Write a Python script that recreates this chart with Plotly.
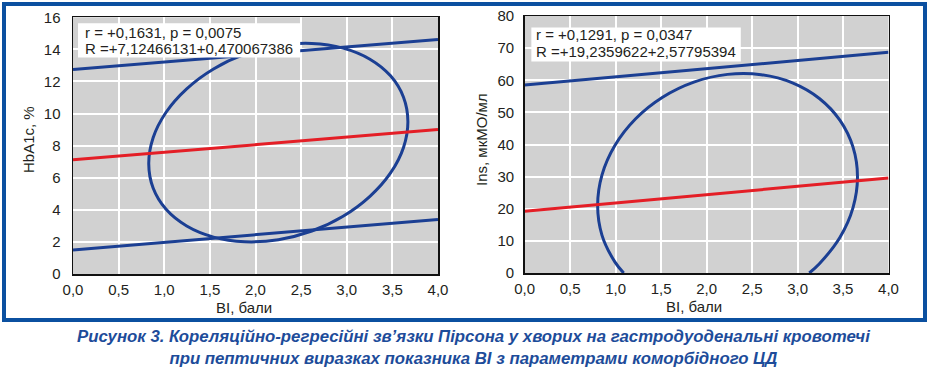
import plotly.graph_objects as go

# ---------------- data ----------------
# Left panel: BI vs HbA1c
bi_line = [0.0, 4.0]
hba_fit = [7.12, 9.00]
hba_upper = [12.75, 14.62]
hba_lower = [1.50, 3.40]
hba_ell_x = [3.670, 3.622, 3.480, 3.254, 2.960, 2.617, 2.250, 1.883, 1.540, 1.246, 1.020, 0.878,
             0.830, 0.878, 1.020, 1.246, 1.540, 1.883, 2.250, 2.617, 2.960, 3.254, 3.480, 3.622,
             3.670]
hba_ell_y = [9.50, 11.02, 12.35, 13.39, 14.08, 14.37, 14.24, 13.70, 12.78, 11.54, 10.08, 8.49,
             6.88, 5.36, 4.03, 2.99, 2.30, 2.01, 2.14, 2.68, 3.60, 4.84, 6.30, 7.89,
             9.50]

# Right panel: BI vs Ins
ins_fit = [19.24, 29.55]
ins_upper = [58.5, 68.7]
ins_ell_x = [1.089, 0.993, 0.850, 0.802, 0.850, 0.993, 1.220, 1.516, 1.860, 2.230, 2.600, 2.944,
             3.240, 3.467, 3.610, 3.659, 3.610, 3.467, 3.240, 3.129]
ins_ell_y = [0.0, 3.39, 11.72, 20.98, 30.55, 39.77, 48.02, 54.72, 59.43, 61.83, 61.74, 59.19,
             54.33, 47.51, 39.18, 29.92, 20.35, 11.13, 2.88, 0.0]

x_ticks = [0.0, 0.5, 1.0, 1.5, 2.0, 2.5, 3.0, 3.5, 4.0]
hba_ticks = [0, 2, 4, 6, 8, 10, 12, 14, 16]
ins_ticks = [0, 10, 20, 30, 40, 50, 60, 70, 80]

left_text = ["r = +0,1631, p = 0,0075", "R =+7,12466131+0,470067386"]
right_text = ["r = +0,1291, p = 0,0347", "R =+19,2359622+2,57795394"]
x_title = "BI, бали"
left_ytitle = "HbA1c, %"
right_ytitle = "Ins, мкМО/мл"
caption = ["Рисунок 3. Кореляційно-регресійні зв’язки Пірсона у хворих на гастродуоденальні кровотечі",
           "при пептичних виразках показника BI з параметрами коморбідного ЦД"]

# ---------------- style ----------------
BLUE = "#1b3f93"
RED = "#e41e26"
FRAME = "#0b50a0"
CAP = "#1d4c9a"
TXT = "#231f20"
FONT = "Liberation Sans, Arial, sans-serif"
W, H = 931, 369

fig = go.Figure()

def add_line(x, y, color, xa, ya, shape="linear"):
    fig.add_trace(go.Scatter(x=x, y=y, mode="lines", xaxis=xa, yaxis=ya,
                             line=dict(color=color, width=3, shape=shape, smoothing=1.0),
                             hoverinfo="skip", showlegend=False, cliponaxis=True))

add_line(bi_line, hba_upper, BLUE, "x", "y")
add_line(bi_line, hba_lower, BLUE, "x", "y")
add_line(hba_ell_x, hba_ell_y, BLUE, "x", "y", "spline")
add_line(bi_line, hba_fit, RED, "x", "y")

add_line(bi_line, ins_upper, BLUE, "x2", "y2")
add_line(ins_ell_x, ins_ell_y, BLUE, "x2", "y2", "spline")
add_line(bi_line, ins_fit, RED, "x2", "y2")

def px_x(p):
    return p / W

def px_y(p):
    return 1 - p / H

axis_common = dict(showgrid=True, gridcolor="white", gridwidth=2, zeroline=False,
                   showline=True, linecolor="#111111", linewidth=1.5, mirror=True,
                   ticks="", tickfont=dict(family=FONT, size=15, color=TXT),
                   fixedrange=True, automargin=False)

fig.update_layout(
    width=W, height=H,
    margin=dict(l=0, r=0, t=0, b=0, autoexpand=False),
    paper_bgcolor="white",
    plot_bgcolor="#d1d1d1",
    separators=", ",
    showlegend=False,
    xaxis=dict(domain=[px_x(73), px_x(438)], range=[0, 4], tickvals=x_ticks,
               tickformat=".1f", anchor="y", ticklabelstandoff=1, **axis_common),
    yaxis=dict(domain=[px_y(274), px_y(17.3)], range=[0, 16], tickvals=hba_ticks,
               anchor="x", ticklabelstandoff=8, **axis_common),
    xaxis2=dict(domain=[px_x(524.7), px_x(888.5)], range=[0, 4], tickvals=x_ticks,
                tickformat=".1f", anchor="y2", ticklabelstandoff=1, **axis_common),
    yaxis2=dict(domain=[px_y(273), px_y(16)], range=[0, 80], tickvals=ins_ticks,
                anchor="x2", ticklabelstandoff=6, **axis_common),
)

shapes = []
# outer frame
shapes.append(dict(type="rect", xref="paper", yref="paper",
                   x0=px_x(4), x1=px_x(925), y0=px_y(320), y1=px_y(4),
                   line=dict(color=FRAME, width=4), fillcolor="rgba(0,0,0,0)", layer="above"))
# annotation boxes
shapes.append(dict(type="rect", xref="x", yref="y", x0=0.055, x1=2.49, y0=13.5, y1=15.63,
                   line=dict(width=0), fillcolor="white", layer="above"))
shapes.append(dict(type="rect", xref="x2", yref="y2", x0=0.073, x1=2.376, y0=65.8, y1=76.4,
                   line=dict(width=0), fillcolor="white", layer="above"))
fig.update_layout(shapes=shapes)

ann = []
for i, t in enumerate(left_text):
    ann.append(dict(x=0.11, y=[15.07, 14.07][i], xref="x", yref="y", text=t, showarrow=False,
                    xanchor="left", yanchor="middle", font=dict(family=FONT, size=15, color=TXT)))
for i, t in enumerate(right_text):
    ann.append(dict(x=0.106, y=[74.1, 68.9][i], xref="x2", yref="y2", text=t, showarrow=False,
                    xanchor="left", yanchor="middle", font=dict(family=FONT, size=15, color=TXT)))
# axis titles
ann.append(dict(x=px_x(244), y=px_y(307), xref="paper", yref="paper", text=x_title, showarrow=False,
                xanchor="center", yanchor="middle", font=dict(family=FONT, size=15, color=TXT)))
ann.append(dict(x=px_x(694), y=px_y(306), xref="paper", yref="paper", text=x_title, showarrow=False,
                xanchor="center", yanchor="middle", font=dict(family=FONT, size=15, color=TXT)))
ann.append(dict(x=px_x(28), y=px_y(140), xref="paper", yref="paper", text=left_ytitle, showarrow=False,
                textangle=-90, xanchor="center", yanchor="middle", font=dict(family=FONT, size=15, color=TXT)))
ann.append(dict(x=px_x(481), y=px_y(140), xref="paper", yref="paper", text=right_ytitle, showarrow=False,
                textangle=-90, xanchor="center", yanchor="middle", font=dict(family=FONT, size=15, color=TXT)))
# caption (single text block, two lines)
ann.append(dict(x=px_x(473), y=px_y(347), xref="paper", yref="paper",
                text="<b><i>" + caption[0] + "<br>" + caption[1] + "</i></b>", showarrow=False,
                xanchor="center", yanchor="middle", align="center",
                font=dict(family=FONT, size=16.8, color=CAP)))
fig.update_layout(annotations=ann)

fig.write_html("out.html",
               config={"displayModeBar": False, "staticPlot": True},
               post_script="document.body.style.margin='0';document.body.style.padding='0';"
                           "document.body.style.overflow='hidden';")
